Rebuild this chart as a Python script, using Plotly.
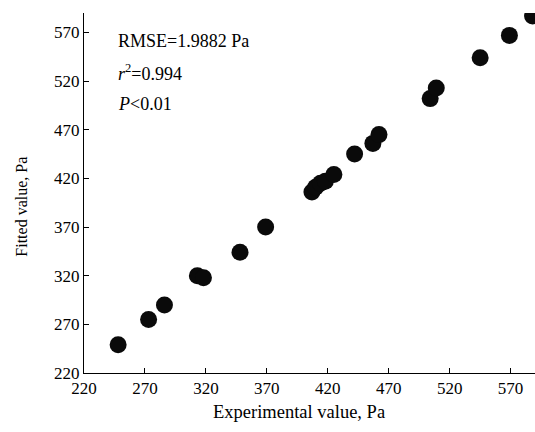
import plotly.graph_objects as go

# Experimental vs. fitted shear values (Pa)
experimental = [248, 273, 286, 313, 318, 348, 369,
                407, 410, 414, 418, 425, 442, 457, 462,
                504, 509, 545, 569, 588]
fitted = [249, 275, 290, 320, 318, 344, 370,
          406, 411, 415, 417, 424, 445, 456, 465,
          502, 513, 544, 567, 587]

tick_vals = [220, 270, 320, 370, 420, 470, 520, 570]

FONT = "Liberation Serif"

fig = go.Figure()
fig.add_trace(go.Scatter(
    x=experimental, y=fitted, mode="markers",
    marker=dict(size=17, color="#0a0a0a", line=dict(width=0)),
    showlegend=False,
))

axis_common = dict(
    tickvals=tick_vals,
    ticks="inside", ticklen=5, tickwidth=1, tickcolor="black",
    showline=True, linecolor="black", linewidth=1,
    showgrid=False, zeroline=False,
    tickfont=dict(family=FONT, size=17, color="black"),
)

fig.update_xaxes(range=[220, 590], **axis_common)
fig.update_yaxes(range=[220, 590], **axis_common)

# Axis titles placed as annotations so they can sit off-centre
fig.add_annotation(
    text="Experimental value, Pa", xref="paper", yref="paper",
    x=0.477, y=-0.108, xanchor="center", yanchor="middle",
    showarrow=False, font=dict(family=FONT, size=18.5, color="black"),
)
fig.add_annotation(
    text="Fitted value, Pa", xref="paper", yref="paper",
    x=-0.1375, y=0.462, xanchor="center", yanchor="middle", textangle=-90,
    showarrow=False, font=dict(family=FONT, size=16, color="black"),
)

stats = ["RMSE=1.9882 Pa", "<i>r</i><sup>2</sup>=0.994", "<i>P</i><0.01"]
for i, txt in enumerate(stats):
    fig.add_annotation(
        text=txt, xref="paper", yref="paper",
        x=0.072, y=0.922 - i * 0.087, xanchor="left", yanchor="middle",
        showarrow=False, font=dict(family=FONT, size=18, color="black"),
    )

fig.update_layout(
    width=535, height=432,
    margin=dict(l=84, r=0, t=13, b=59),
    plot_bgcolor="white", paper_bgcolor="white",
)

fig.write_html("out.html")
